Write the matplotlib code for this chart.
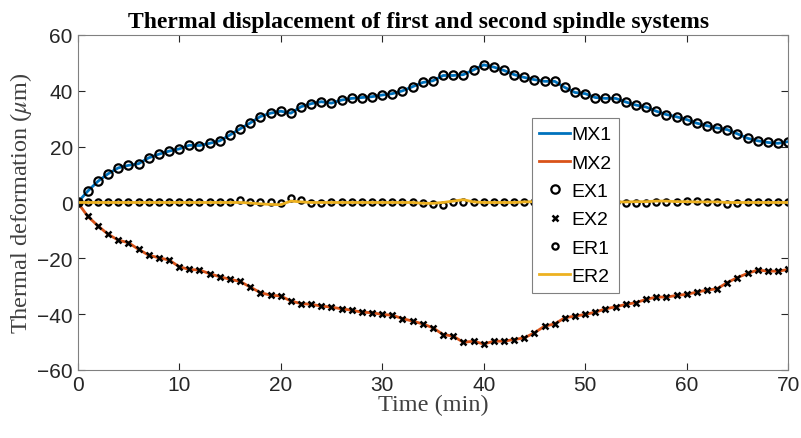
import numpy as np
import matplotlib
matplotlib.use("Agg")
import matplotlib.pyplot as plt

plt.rcParams['mathtext.fontset'] = 'stix'

t = np.arange(0, 71)

mx1 = [0, 4.1, 7.6, 10.3, 12.4, 13.3, 13.9, 16.0, 17.3, 18.4,
       19.2, 20.5, 20.4, 21.2, 22.1, 24.2, 26.4, 28.5, 30.8, 32.0,
       32.7, 32.0, 34.3, 35.4, 36.1, 35.6, 36.7, 37.3, 37.6, 37.9,
       38.5, 39.0, 40.0, 41.5, 43.0, 43.6, 45.5, 45.5, 45.8, 47.5,
       49.3, 48.5, 47.3, 45.8, 44.8, 44.0, 43.4, 43.4, 41.2, 39.4,
       39.0, 37.6, 37.3, 37.3, 36.0, 34.9, 34.2, 32.7, 31.5, 30.7,
       29.7, 28.4, 27.5, 26.7, 26.1, 24.6, 23.0, 22.1, 21.5, 21.2, 21.8]

mx2 = [0, -5.0, -8.4, -11.4, -13.5, -14.4, -16.8, -18.9, -19.8, -20.6,
       -23.0, -24.0, -24.2, -25.5, -26.6, -27.5, -28.3, -30.3, -32.3, -33.2,
       -33.5, -35.3, -36.2, -36.5, -37.1, -37.5, -38.1, -38.6, -39.3, -39.5,
       -40.1, -40.4, -41.6, -42.5, -43.5, -44.9, -47.3, -47.9, -50.1, -49.7,
       -50.7, -49.7, -49.7, -49.1, -48.5, -46.7, -44.3, -43.5, -41.3, -40.7,
       -40.1, -39.3, -38.1, -37.4, -36.5, -35.9, -34.7, -33.9, -33.9, -33.3,
       -32.9, -32.1, -31.4, -30.9, -28.7, -26.9, -25.4, -24.2, -24.6, -24.6, -24.0]

ex1 = list(mx1)
ex2 = list(mx2)

er1 = [0, 0, 0, 0, 0, 0, 0, 0.2, 0, 0,
       0, 0, 0, 0, 0, 0.2, 0.8, 0.2, 0, 0,
       -0.3, 1.5, 0.8, -0.3, -0.3, 0, 0, 0, 0, 0,
       0, 0, 0, 0, -0.3, -0.5, -1.0, 0, 0.3, 0,
       0, 0, 0, 0, 0, 0, 0, 0, 0, 0,
       0, 0, 0, 0, -0.3, -0.3, -0.3, 0, 0, 0.3,
       0.5, 0.5, 0.3, 0, -0.5, -0.3, 0, 0.3, 0.3, 0, 0]

er2 = [0, 0, 0, 0, 0, 0, 0, 0, 0, 0,
       0, 0, 0, 0, 0, 0, 0, -0.2, -0.5, -0.7,
       -0.8, 0.5, 0.2, 0, 0, 0, 0, 0, 0, 0,
       0, 0, 0, 0, -0.3, -0.3, 0, 0.5, 1.0, 0.2,
       0, 0, 0, 0, 0.2, 0.3, 0.3, 0.3, 0.3, 0.3,
       0.2, 0.2, 0.2, 0.2, 0.2, 0.3, 0.3, 0.5, 0.5, 0.3,
       0.3, 0.2, 0.2, 0.2, 0, 0, 0, 0, 0, 0, 0]

fig = plt.figure(figsize=(8.01, 4.39), dpi=100)
ax = fig.add_axes([0.097, 0.155, 0.887, 0.763])

ax.plot(t, mx1, color='#0072BD', lw=2, label='MX1')
ax.plot(t, mx2, color='#D95319', lw=2, label='MX2')
ax.plot(t, ex1, 'o', mfc='none', mec='k', ms=6, mew=1.6, label='EX1')
ax.plot(t, ex2, 'x', mec='k', ms=4.5, mew=1.8, label='EX2')
ax.plot(t, er1, 'o', mfc='none', mec='k', ms=4.5, mew=1.6, label='ER1')
ax.plot(t, er2, color='#EDB120', lw=2, label='ER2')

ax.set_xlim(0, 70)
ax.set_ylim(-60, 60)
ax.set_xticks(np.arange(0, 71, 10))
ax.set_yticks(np.arange(-60, 61, 20))
ax.tick_params(direction='in', top=True, right=True, length=5, width=0.8,
               labelsize=15, colors='#262626', labelcolor='#262626')
for lbl in ax.get_xticklabels() + ax.get_yticklabels():
    lbl.set_family('Liberation Sans')
for s in ax.spines.values():
    s.set_color('#808080')
    s.set_linewidth(0.8)

ax.set_title('Thermal displacement of first and second spindle systems',
             family='Liberation Serif', fontweight='bold', fontsize=17, pad=6, x=0.48)
ax.set_xlabel('Time (min)', family='Liberation Serif', fontsize=17.5, color='#404040', labelpad=0)
ax.set_ylabel(r'Thermal deformation ($\mu$m)', family='Liberation Serif', fontsize=17.5,
              color='#404040', labelpad=2)

leg = ax.legend(loc='upper left', bbox_to_anchor=(0.639, 0.752), fancybox=False,
                framealpha=1, edgecolor='#808080', handlelength=1.55, handletextpad=0.1,
                labelspacing=0.55, borderpad=0.4, borderaxespad=0,
                prop={'family': 'Liberation Sans', 'size': 14})
leg.get_frame().set_linewidth(0.8)

fig.savefig('out.png', dpi=100)
